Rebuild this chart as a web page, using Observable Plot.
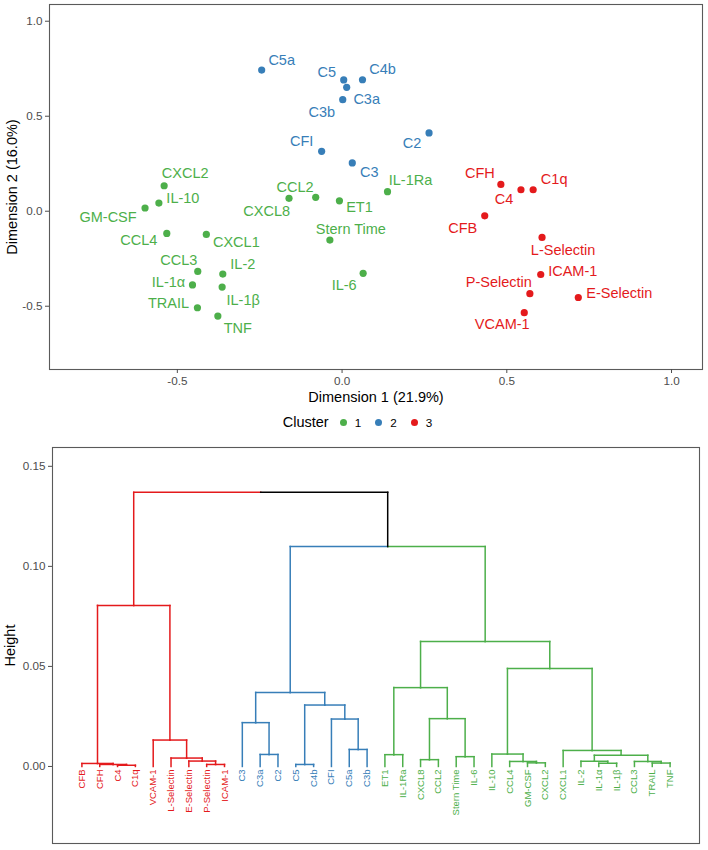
<!DOCTYPE html>
<html><head><meta charset="utf-8">
<script src="https://cdn.jsdelivr.net/npm/d3@7"></script>
<script src="https://cdn.jsdelivr.net/npm/@observablehq/plot@0.6"></script>
<style>
body{margin:0;background:#fff;font-family:"Liberation Sans",Arial,sans-serif;}
#wrap{position:relative;width:708px;height:850px;overflow:hidden;}
#scatter{position:absolute;left:0;top:0;}
#legend{position:absolute;top:413px;left:0;width:724px;display:flex;justify-content:center;align-items:center;height:18px;font-size:14.5px;color:#000;}
#legend .key{display:inline-block;width:17px;height:17px;position:relative;}
#legend .key i{position:absolute;left:5px;top:5px;width:7px;height:7px;border-radius:50%;}
#legend .lab{font-size:11.7px;margin:0 9px 0 3px;}
#dend{position:absolute;left:0;top:440px;}
</style></head><body>
<div id="wrap"><div id="scatter"></div><div id="legend"></div><div id="dend"></div></div>
<script>
// ---------- Data: MDS scatter ----------
const names = ["C5a","C5","C4b","C3a","C3b","C2","CFI","C3",
  "CXCL2","IL-10","GM-CSF","CCL4","CXCL1","CCL3","IL-2","IL-1α","IL-1β","TRAIL","TNF",
  "CCL2","CXCL8","ET1","Stern Time","IL-6","IL-1Ra",
  "CFH","C4","C1q","CFB","L-Selectin","ICAM-1","P-Selectin","E-Selectin","VCAM-1"];
const dim1 = [-0.244,0.005,0.062,0.014,0.002,0.264,-0.062,0.031,
  -0.540,-0.556,-0.598,-0.532,-0.412,-0.438,-0.362,-0.454,-0.364,-0.439,-0.377,
  -0.161,-0.080,-0.008,-0.037,0.064,0.138,
  0.482,0.543,0.580,0.433,0.607,0.603,0.570,0.717,0.553];
const dim2 = [0.743,0.691,0.692,0.652,0.587,0.412,0.315,0.254,
  0.134,0.043,0.017,-0.117,-0.122,-0.317,-0.331,-0.388,-0.399,-0.508,-0.552,
  0.068,0.073,0.055,-0.152,-0.327,0.103,
  0.141,0.113,0.113,-0.024,-0.138,-0.333,-0.434,-0.454,-0.534];
const cluster = [2,2,2,2,2,2,2,2,
  1,1,1,1,1,1,1,1,1,1,1,
  1,1,1,1,1,1,
  3,3,3,3,3,3,3,3,3];
// label nudges (px), mimicking ggrepel placement
const labelDx = [20,-17,20,20,-21,-17,-20,17,
  21,24,-37,-28,30,-19,20,-24,21,-29,20,
  6,-49,20,21,-19,23,
  -21,-17,21,-22,21,32,-31,41,-22];
const labelDy = [-10,-8,-10,12,13,10,-10,9,
  -12,-5,9,7,8,-11,-10,-3,13,-4,12,
  -11,14,7,-11,12,-11,
  -11,10,-10,13,13,-3,-11,-4,12];
const clusterLevels = [1,2,3];
const clusterColors = ["#4DAF4A","#377EB8","#E41A1C"];

// ---------- Data: dendrogram ----------
const leafOrder = ["CFB","CFH","C4","C1q","VCAM-1","L-Selectin","E-Selectin","P-Selectin","ICAM-1",
  "C3","C3a","C2","C5","C4b","CFI","C5a","C3b",
  "ET1","IL-1Ra","CXCL8","CCL2","Stern Time","IL-6","IL-10","CCL4","GM-CSF","CXCL2",
  "CXCL1","IL-2","IL-1α","IL-1β","CCL3","TRAIL","TNF"];
// merges: [left, right, height]; "#k" refers to merge k
const merges = [
  ["C4","C1q",0.0006],
  ["CFH","#0",0.0010],
  ["CFB","#1",0.0015],
  ["P-Selectin","ICAM-1",0.0010],
  ["E-Selectin","#3",0.0027],
  ["L-Selectin","#4",0.0042],
  ["VCAM-1","#5",0.0132],
  ["#2","#6",0.0805],
  ["C3a","C2",0.0060],
  ["C3","#8",0.0219],
  ["C5","C4b",0.0010],
  ["C5a","C3b",0.0085],
  ["CFI","#11",0.0237],
  ["#10","#12",0.0307],
  ["#9","#13",0.0370],
  ["ET1","IL-1Ra",0.0059],
  ["CXCL8","CCL2",0.0034],
  ["Stern Time","IL-6",0.0049],
  ["#16","#17",0.0239],
  ["#15","#18",0.0394],
  ["GM-CSF","CXCL2",0.0018],
  ["CCL4","#20",0.0025],
  ["IL-10","#21",0.0062],
  ["IL-1α","IL-1β",0.0016],
  ["IL-2","#23",0.0026],
  ["TRAIL","TNF",0.0017],
  ["CCL3","#25",0.0025],
  ["#24","#26",0.0056],
  ["CXCL1","#27",0.0080],
  ["#22","#28",0.0490],
  ["#19","#29",0.0625],
  ["#14","#30",0.1099],
  ["#7","#31",0.1370]
];
const heightTicks = [0,0.05,0.10,0.15];
const dimTicks = [-0.5,0,0.5,1.0];

const FONT = "Liberation Sans, Arial, sans-serif";
const colorOf = c => clusterColors[clusterLevels.indexOf(c)];

// ---------- Scatter ----------
const idx = names.map((_, i) => i);
const labelMarks = idx.map(i => Plot.text([i], {
  x: j => dim1[j], y: j => dim2[j], text: j => names[j],
  dx: labelDx[i], dy: labelDy[i], fill: colorOf(cluster[i]), fontSize: 14.5, lineAnchor: "middle"
}));
const scatter = Plot.plot({
  width: 708, height: 410,
  marginLeft: 49, marginTop: 4, marginRight: 6, marginBottom: 41,
  style: {fontFamily: FONT, background: "white"},
  x: {domain: [-0.888, 1.094], label: null},
  y: {domain: [-0.833, 1.088], label: null},
  color: {domain: clusterLevels, range: clusterColors},
  marks: [
    Plot.frame({stroke: "#5a5a5a", strokeWidth: 1.1}),
    Plot.axisX({ticks: dimTicks, tickFormat: d => d.toFixed(1), tickSize: 4, tickPadding: 3, fontSize: 11.7, color: "#4d4d4d", label: null}),
    Plot.axisY({ticks: dimTicks, tickFormat: d => d.toFixed(1), tickSize: 4, tickPadding: 3, fontSize: 11.7, color: "#4d4d4d", label: null}),
    Plot.dot(idx, {x: i => dim1[i], y: i => dim2[i], r: 3.6, fill: i => cluster[i], stroke: "none"}),
    ...labelMarks,
    Plot.text(["Dimension 1 (21.9%)"], {frameAnchor: "bottom", lineAnchor: "middle", textAnchor: "middle", dy: 28, fontSize: 14.5, fill: "#000"}),
    Plot.text(["Dimension 2 (16.0%)"], {frameAnchor: "left", lineAnchor: "middle", textAnchor: "middle", rotate: -90, dx: -37, fontSize: 14.5, fill: "#000"})
  ]
});
document.getElementById("scatter").appendChild(scatter);

// ---------- Legend ----------
const lg = document.getElementById("legend");
let html = '<span style="margin-right:6px">Cluster</span>';
clusterLevels.forEach((c, k) => {
  html += `<span class="key"><i style="background:${clusterColors[k]}"></i></span><span class="lab">${c}</span>`;
});
lg.innerHTML = html;

// ---------- Dendrogram ----------
const leafCluster = new Map(names.map((n, i) => [n, cluster[i]]));
const leafPos = new Map(leafOrder.map((n, i) => [n, i + 1]));
const nodes = [];
const segs = [];
function getNode(ref) {
  if (ref.startsWith("#")) return nodes[+ref.slice(1)];
  return {x: leafPos.get(ref), h: 0, c: leafCluster.get(ref)};
}
merges.forEach(([a, b, h]) => {
  const A = getNode(a), B = getNode(b);
  const node = {x: (A.x + B.x) / 2, h, c: A.c === B.c ? A.c : 0};
  [A, B].forEach(k => {
    segs.push({x1: node.x, y1: h, x2: k.x, y2: h, c: k.c});
    segs.push({x1: k.x, y1: h, x2: k.x, y2: k.h, c: k.c});
  });
  nodes.push(node);
});
const leaves = leafOrder.map((n, i) => ({name: n, pos: i + 1, c: leafCluster.get(n)}));
const dend = Plot.plot({
  width: 708, height: 410,
  marginLeft: 52, marginTop: 7, marginRight: 9, marginBottom: 7,
  style: {fontFamily: FONT, background: "white"},
  x: {domain: [-0.65, 35.65], axis: null},
  y: {domain: [-0.0385, 0.1594], label: null},
  color: {domain: [0, ...clusterLevels], range: ["#000000", ...clusterColors]},
  marks: [
    Plot.frame({stroke: "#5a5a5a", strokeWidth: 1.1}),
    Plot.axisY({ticks: heightTicks, tickFormat: d => d.toFixed(2), tickSize: 4, tickPadding: 3, fontSize: 11.7, color: "#4d4d4d", label: null}),
    Plot.link(segs, {x1: "x1", y1: "y1", x2: "x2", y2: "y2", stroke: "c", strokeWidth: 1.5, strokeLinecap: "square"}),
    Plot.text(leaves, {x: "pos", y: () => 0, text: "name", fill: "c", rotate: -90, textAnchor: "end", lineAnchor: "middle", dy: 3, fontSize: 9.5}),
    Plot.text(["Height"], {frameAnchor: "left", lineAnchor: "middle", textAnchor: "middle", rotate: -90, dx: -42, fontSize: 14.5, fill: "#000"})
  ]
});
document.getElementById("dend").appendChild(dend);
</script>
</body></html>
